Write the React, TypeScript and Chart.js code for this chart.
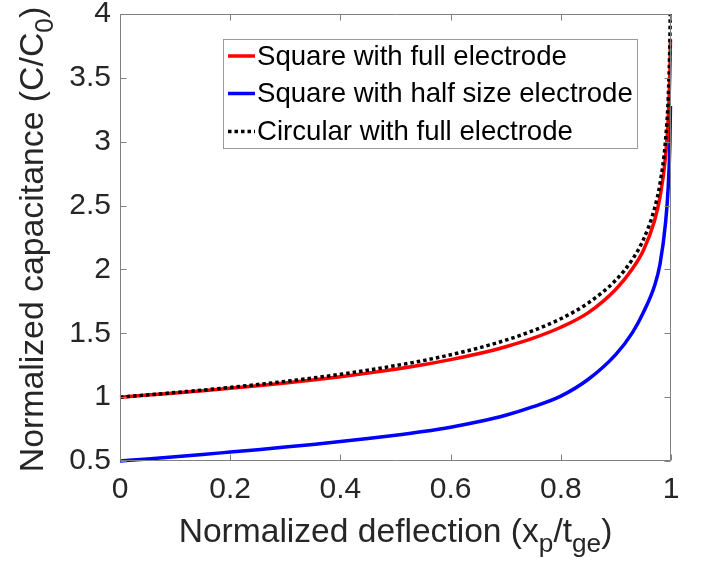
import React, { useEffect, useRef } from 'react';
import { Chart, registerables } from 'chart.js';

Chart.register(...registerables);

// ---- Data ----
const xValues = [
  0, 0.05, 0.1, 0.15, 0.2, 0.25, 0.3, 0.35, 0.4, 0.45, 0.5, 0.55, 0.6, 0.65,
  0.7, 0.75, 0.8, 0.85, 0.9, 0.93, 0.95, 0.97, 0.98, 0.99, 0.995, 0.998, 0.999,
];

const squareFull = [
  1.0, 1.016, 1.033, 1.05, 1.069, 1.089, 1.111, 1.134, 1.16, 1.188, 1.219,
  1.254, 1.294, 1.34, 1.395, 1.462, 1.547, 1.662, 1.845, 2.005, 2.15, 2.38,
  2.565, 2.88, 3.18, 3.55, 3.8,
];

const squareHalf = [
  0.5, 0.516, 0.533, 0.551, 0.57, 0.589, 0.609, 0.63, 0.652, 0.676, 0.702,
  0.731, 0.765, 0.807, 0.858, 0.925, 1.008, 1.14, 1.335, 1.505, 1.665, 1.87,
  2.04, 2.36, 2.65, 3.0, 3.28,
];

const circularFull = [
  1.0, 1.017, 1.036, 1.055, 1.076, 1.099, 1.123, 1.15, 1.179, 1.211, 1.247,
  1.286, 1.332, 1.384, 1.446, 1.521, 1.614, 1.738, 1.917, 2.079, 2.235, 2.476,
  2.671, 3.008, 3.35, 3.804, 4.149,
];

const seriesLabels = [
  'Square with full electrode',
  'Square with half size electrode',
  'Circular with full electrode',
];
const seriesColors = ['#ff0000', '#0000ff', '#000000'];

const xTickValues = [0, 0.2, 0.4, 0.6, 0.8, 1];
const xTickLabels = ['0', '0.2', '0.4', '0.6', '0.8', '1'];
const yTickValues = [0.5, 1, 1.5, 2, 2.5, 3, 3.5, 4];
const yTickLabels = ['0.5', '1', '1.5', '2', '2.5', '3', '3.5', '4'];

const xTitleParts = [
  { t: 'Normalized deflection (x', sub: false },
  { t: 'p', sub: true },
  { t: '/t', sub: false },
  { t: 'ge', sub: true },
  { t: ')', sub: false },
];
const yTitleParts = [
  { t: 'Normalized capacitance (C/C', sub: false },
  { t: '0', sub: true },
  { t: ')', sub: false },
];

const FONT = '"Liberation Sans", Arial, Helvetica, sans-serif';
const TEXT_COLOR = '#262626';
const AXIS_COLOR = '#808080';

function drawParts(
  ctx: CanvasRenderingContext2D,
  parts: { t: string; sub: boolean }[],
  cx: number,
  baseline: number,
  size: number
) {
  const subSize = size * 0.78;
  const widths = parts.map((p) => {
    ctx.font = `${p.sub ? subSize : size}px ${FONT}`;
    return ctx.measureText(p.t).width;
  });
  const total = widths.reduce((a, b) => a + b, 0);
  let x = cx - total / 2;
  ctx.textAlign = 'left';
  ctx.textBaseline = 'alphabetic';
  ctx.fillStyle = TEXT_COLOR;
  parts.forEach((p, i) => {
    ctx.font = `${p.sub ? subSize : size}px ${FONT}`;
    ctx.fillText(p.t, x, baseline + (p.sub ? size * 0.3 : 0));
    x += widths[i];
  });
}

const framePlugin = {
  id: 'matlabFrame',
  afterDraw(chart: any) {
    const { ctx, chartArea, scales } = chart;
    const xs = scales.x;
    const ys = scales.y;
    const L = Math.round(chartArea.left) + 0.5;
    const R = Math.round(chartArea.right) - 0.5;
    const T = Math.round(chartArea.top) + 0.5;
    const B = Math.round(chartArea.bottom) - 0.5;
    ctx.save();
    ctx.strokeStyle = AXIS_COLOR;
    ctx.lineWidth = 1;
    ctx.beginPath();
    ctx.rect(L, T, R - L, B - T);
    const tl = 6;
    xTickValues.forEach((v) => {
      const px = Math.round(xs.getPixelForValue(v)) + 0.5;
      ctx.moveTo(px, B);
      ctx.lineTo(px, B - tl);
      ctx.moveTo(px, T);
      ctx.lineTo(px, T + tl);
    });
    yTickValues.forEach((v) => {
      const py = Math.round(ys.getPixelForValue(v)) + 0.5;
      ctx.moveTo(L, py);
      ctx.lineTo(L + tl, py);
      ctx.moveTo(R, py);
      ctx.lineTo(R - tl, py);
    });
    ctx.stroke();

    // Axis titles with subscripts
    drawParts(ctx, xTitleParts, (chartArea.left + chartArea.right) / 2, 542, 33.6);
    ctx.save();
    ctx.translate(43, (chartArea.top + chartArea.bottom) / 2 + 2);
    ctx.rotate(-Math.PI / 2);
    drawParts(ctx, yTitleParts, 0, 0, 33.8);
    ctx.restore();

    // Legend box
    const bx = 223.5, by = 39.5, bw = 414, bh = 109;
    ctx.fillStyle = '#ffffff';
    ctx.fillRect(bx, by, bw, bh);
    ctx.strokeStyle = '#9a9a9a';
    ctx.lineWidth = 1;
    ctx.strokeRect(bx, by, bw, bh);
    const rows = [56, 93.5, 131.5];
    seriesLabels.forEach((label, i) => {
      const y = rows[i];
      ctx.beginPath();
      ctx.strokeStyle = seriesColors[i];
      ctx.lineWidth = 3.5;
      if (i === 2) ctx.setLineDash([3.5, 3]);
      else ctx.setLineDash([]);
      ctx.moveTo(228, y);
      ctx.lineTo(255, y);
      ctx.stroke();
      ctx.setLineDash([]);
      ctx.fillStyle = '#000000';
      ctx.font = `27.6px ${FONT}`;
      ctx.textAlign = 'left';
      ctx.textBaseline = 'middle';
      ctx.fillText(label, 257, y + 1);
    });
    ctx.restore();
  },
};

export default function App() {
  const ref = useRef<HTMLCanvasElement | null>(null);

  useEffect(() => {
    if (!ref.current) return;
    const mk = (ys: number[]) => xValues.map((x, i) => ({ x, y: ys[i] }));
    const common = {
      borderWidth: 3.5,
      pointRadius: 0,
      cubicInterpolationMode: 'monotone' as const,
      clip: { left: 2, right: 2, top: 0, bottom: 2 } as any,
    };
    const chart = new Chart(ref.current, {
      type: 'line',
      data: {
        datasets: [
          {
            ...common,
            label: seriesLabels[0],
            data: mk(squareFull),
            borderColor: seriesColors[0],
            order: 1,
          },
          {
            ...common,
            label: seriesLabels[1],
            data: mk(squareHalf),
            borderColor: seriesColors[1],
            order: 1,
          },
          {
            ...common,
            label: seriesLabels[2],
            data: mk(circularFull),
            borderColor: seriesColors[2],
            borderDash: [3.5, 3],
            order: 0,
          },
        ],
      },
      options: {
        animation: false,
        responsive: false,
        maintainAspectRatio: false,
        layout: { padding: { left: 0, top: 14, right: 33, bottom: 0 } },
        plugins: {
          legend: { display: false },
          tooltip: { enabled: false },
        },
        scales: {
          x: {
            type: 'linear',
            min: 0,
            max: 1,
            afterBuildTicks: (scale: any) => {
              scale.ticks = xTickValues.map((v) => ({ value: v }));
            },
            afterFit: (scale: any) => {
              scale.height = 106;
              scale.paddingLeft = 0;
              scale.paddingRight = 0;
            },
            grid: { display: false, drawTicks: false },
            border: { display: false },
            ticks: {
              padding: 11,
              maxRotation: 0,
              color: TEXT_COLOR,
              font: { size: 30, family: FONT },
              callback: (v: any) => xTickLabels[xTickValues.indexOf(Number(v))] ?? '',
            },
          },
          y: {
            type: 'linear',
            min: 0.5,
            max: 4,
            afterBuildTicks: (scale: any) => {
              scale.ticks = yTickValues.map((v) => ({ value: v }));
            },
            afterFit: (scale: any) => {
              scale.width = 120;
              scale.paddingTop = 0;
              scale.paddingBottom = 0;
            },
            grid: { display: false, drawTicks: false },
            border: { display: false },
            ticks: {
              padding: 9,
              color: TEXT_COLOR,
              font: { size: 30, family: FONT },
              callback: (v: any) => yTickLabels[yTickValues.indexOf(Number(v))] ?? '',
            },
          },
        },
      },
      plugins: [framePlugin],
    });
    return () => chart.destroy();
  }, []);

  return (
    <div
      style={{
        position: 'fixed',
        left: 0,
        top: 0,
        width: 704,
        height: 567,
        background: '#ffffff',
      }}
    >
      <canvas ref={ref} width={704} height={567} />
    </div>
  );
}
